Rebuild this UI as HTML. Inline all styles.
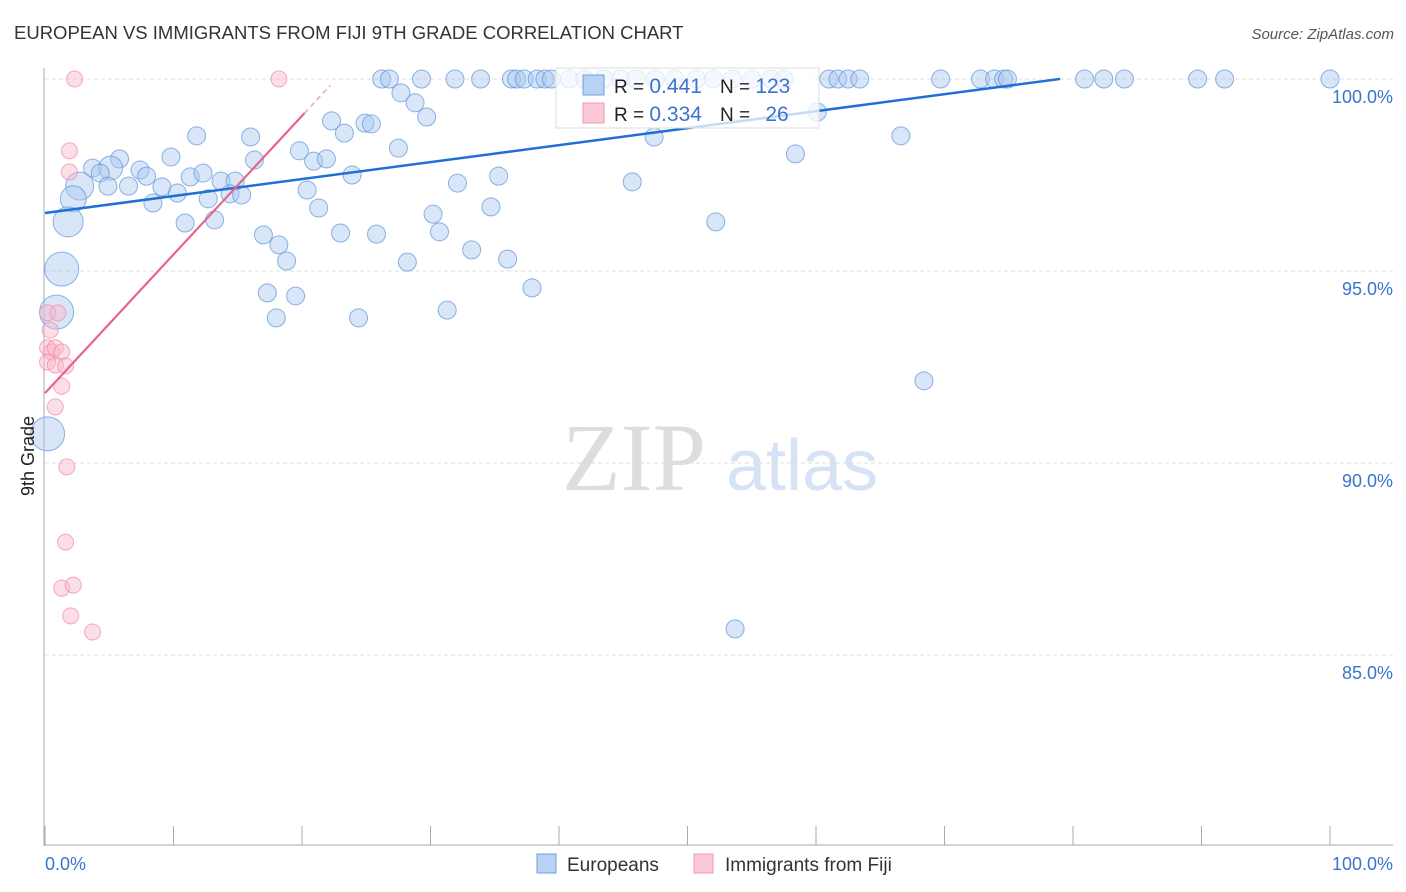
<!DOCTYPE html>
<html><head><meta charset="utf-8"><style>
body{margin:0;background:#fff;font-family:"Liberation Sans",sans-serif}
svg{display:block}
</style></head><body>
<svg id="c" width="1406" height="892" xmlns="http://www.w3.org/2000/svg">
<text x="14" y="39" font-size="18.5" fill="#333">EUROPEAN VS IMMIGRANTS FROM FIJI 9TH GRADE CORRELATION CHART</text>
<text x="1394" y="39" font-size="15" fill="#555" font-style="italic" text-anchor="end">Source: ZipAtlas.com</text>
<text x="634" y="490" font-size="96" fill="#ddd" font-family="Liberation Serif,serif" text-anchor="middle">ZIP</text>
<text x="802" y="490" font-size="72" fill="#d5e3f5" text-anchor="middle">atlas</text>
<g id="grid"></g><g id="axes"></g><g id="pts"></g><g id="trend"></g>
<g>
<rect x="556" y="68" width="263" height="60" fill="#fff" fill-opacity="0.75" stroke="#ddd"/>
<rect x="583" y="75" width="21" height="20" fill="#b7d2f3" stroke="#6fa0e0"/>
<rect x="583" y="103" width="21" height="20" fill="#fbc8d6" stroke="#ee9ab3"/>
<text x="614" y="93" font-size="19" fill="#222">R = <tspan fill="#3a74d0" font-size="21">0.441</tspan><tspan dx="18">N = </tspan><tspan fill="#3a74d0" font-size="21">123</tspan></text>
<text x="614" y="121" font-size="19" fill="#222">R = <tspan fill="#3a74d0" font-size="21">0.334</tspan><tspan dx="18">N = </tspan><tspan fill="#3a74d0" font-size="21" dx="10">26</tspan></text>
</g>
<text x="34" y="456" font-size="18" fill="#222" transform="rotate(-90 34 456)" text-anchor="middle">9th Grade</text>
<g>
<rect x="537" y="854" width="19" height="19" fill="#b7d2f3" stroke="#6fa0e0"/>
<text x="567" y="871" font-size="19" fill="#333">Europeans</text>
<rect x="694" y="854" width="19" height="19" fill="#fbc8d6" stroke="#ee9ab3"/>
<text x="725" y="871" font-size="19" fill="#333">Immigrants from Fiji</text>
</g>
</svg>
<script>
const yTicks=[100,95,90,85];
const xTickLabels=["0.0%","100.0%"];
const blueX=[26.2,26.8,29.3,31.9,33.9,36.3,36.7,37.3,38.3,38.9,39.4,40.8,42.0,43.5,44.8,46.0,47.5,49.0,50.7,52.0,53.5,55.0,56.5,57.5,61.0,61.7,62.5,63.4,69.7,72.8,73.9,74.6,74.9,80.9,82.4,84.0,89.7,91.8,100,
27.7,28.8,29.7,22.3,24.9,25.4,23.3,11.8,16.0,27.5,19.8,20.9,21.9,16.3,9.8,5.8,3.7,5.1,4.3,7.4,7.9,6.5,4.9,9.1,10.3,11.3,12.3,13.7,14.8,14.4,15.3,12.7,8.4,2.7,2.2,1.8,1.3,0.9,0.2,23.9,20.4,21.3,32.1,35.3,30.2,34.7,13.2,10.9,17.0,18.2,18.8,23.0,25.8,30.7,33.2,36.0,28.2,17.3,19.5,18.0,24.4,31.3,37.9,45.7,47.4,52.2,58.4,60.1,66.6,68.4,53.7];
const blueY=[100,100,100,100,100,100,100,100,100,100,100,100,100,100,100,100,100,100,100,100,100,100,100,100,100,100,100,100,100,100,100,100,100,100,100,100,100,100,100,
99.64,99.38,99.01,98.91,98.85,98.83,98.59,98.52,98.49,98.20,98.13,97.86,97.92,97.89,97.97,97.92,97.68,97.68,97.55,97.63,97.47,97.21,97.21,97.19,97.03,97.45,97.55,97.34,97.34,97.01,96.98,96.88,96.77,97.21,96.88,96.28,95.05,93.93,90.76,97.50,97.11,96.64,97.29,97.47,96.48,96.67,96.33,96.25,95.94,95.68,95.26,95.99,95.96,96.02,95.55,95.31,95.23,94.43,94.35,93.78,93.78,93.98,94.56,97.32,98.49,96.28,98.05,99.14,98.52,92.14,85.68];
const blueR=[];for(let i=0;i<blueX.length;i++)blueR.push(9);
const bigIdx={56:12,72:14,73:13,74:15,75:17,76:17,77:17};
const pinkX=[2.3,18.2,1.9,1.9,0.2,1.0,0.4,0.2,0.5,0.8,1.3,0.2,0.8,1.6,1.3,0.8,1.7,1.6,1.3,2.2,2.0,3.7];
const pinkY=[100,100,98.13,97.58,93.91,93.91,93.46,93.0,92.89,93.0,92.89,92.63,92.55,92.53,92.0,91.46,89.9,87.94,86.74,86.82,86.02,85.6];
const blueTrend=[96.51,0.0442,79];
const pinkTrend=[91.82,0.361,20.2,22.2];
const NS="http://www.w3.org/2000/svg";
const X=v=>45+v*12.85, Y=v=>79+(100-v)*38.4;
function mk(t,a,p){const e=document.createElementNS(NS,t);for(const k in a)e.setAttribute(k,a[k]);p.appendChild(e);return e;}
const grid=document.getElementById('grid'),axes=document.getElementById('axes'),pts=document.getElementById('pts'),tr=document.getElementById('trend');
yTicks.forEach(t=>{
 const l=mk('line',{x1:45,x2:1393,y1:Y(t),y2:Y(t),stroke:'#ddd','stroke-dasharray':'4 3'},grid);
 
 
 const tx=mk('text',{x:1393,y:Y(t)+24,'font-size':18,fill:'#3a74d0','text-anchor':'end'},grid);
 tx.textContent=t.toFixed(1)+'%';
 
 
});
const ya=mk('line',{x1:44,x2:44,y1:68,y2:846,stroke:'#aaa'},axes);


const xa=mk('line',{x1:44,x2:1393,y1:845,y2:845,stroke:'#aaa'},axes);


for(let i=0;i<=10;i++){const t=mk('line',{x1:X(i*10),x2:X(i*10),y1:826,y2:845,stroke:'#aaa'},axes);
 
 }
[[0,'start'],[100,'end']].forEach((d,i)=>{const t=mk('text',{x:i?1393:45,y:870,'font-size':18,fill:'#3a74d0','text-anchor':d[1]},axes);t.textContent=xTickLabels[i];
 
 });
for(let i=0;i<blueX.length;i++){
 const c=mk('circle',{cx:X(blueX[i]),cy:Y(blueY[i]),r:bigIdx[i]||blueR[i],fill:'#a9c8f0','fill-opacity':0.45,stroke:'#5d93dc','stroke-opacity':0.7},pts);
 
 
}
for(let i=0;i<pinkX.length;i++){
 const c=mk('circle',{cx:X(pinkX[i]),cy:Y(pinkY[i]),r:8,fill:'#f8b5c8','fill-opacity':0.45,stroke:'#ee8aa8','stroke-opacity':0.7},pts);
 
 
}
const bl=mk('polyline',{points:`${X(0)},${Y(blueTrend[0])} ${X(blueTrend[2])},${Y(blueTrend[0]+blueTrend[1]*blueTrend[2])}`,stroke:'#1f6fd6','stroke-width':2.5,fill:'none'},tr);


const pl=mk('line',{x1:X(0),y1:Y(pinkTrend[0]),x2:X(pinkTrend[2]),y2:Y(pinkTrend[0]+pinkTrend[1]*pinkTrend[2]),stroke:'#e8648c','stroke-width':2.2},tr);


const pd=mk('line',{x1:X(pinkTrend[2]),y1:Y(pinkTrend[0]+pinkTrend[1]*pinkTrend[2]),x2:X(pinkTrend[3]),y2:Y(pinkTrend[0]+pinkTrend[1]*pinkTrend[3]),stroke:'#f0a0b8','stroke-width':1.5,'stroke-dasharray':'5 4'},tr);


</script>
</body></html>
